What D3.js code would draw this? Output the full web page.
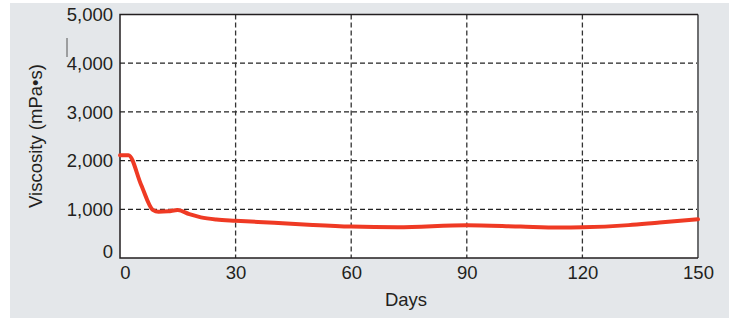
<!DOCTYPE html>
<html>
<head>
<meta charset="utf-8">
<script src="https://cdn.jsdelivr.net/npm/d3@7"></script>
<style>
  html, body { margin: 0; padding: 0; background: #fff; }
  text { font-family: "Liberation Sans", Arial, sans-serif; fill: #231f20; }
</style>
</head>
<body>
<div id="chart"></div>
<script>
// Chart data
const days = [0, 2.2, 5.5, 8.5, 10, 12.5, 15, 18, 21, 25, 30, 40, 50, 60, 72, 90, 104, 114, 120, 132, 140, 150];
const viscosity = [2110, 2110, 1500, 990, 950, 960, 985, 900, 835, 790, 765, 725, 680, 645, 630, 675, 645, 625, 630, 675, 730, 795];
const xTicks = [0, 30, 60, 90, 120, 150];
const yTicks = [0, 1000, 2000, 3000, 4000, 5000];

const width = 729;
const height = 318;

// Plot frame
const plotLeft = 120, plotRight = 698, plotTop = 14.5, plotBottom = 258;

const svg = d3
  .select("#chart")
  .append("svg")
  .attr("width", width)
  .attr("height", height);

// Grey panel
svg.append("rect")
  .attr("x", 10).attr("y", 3)
  .attr("width", width - 10).attr("height", height - 3)
  .attr("fill", "#e4e7ea");

const x = d3.scaleLinear().domain([0, 150]).range([plotLeft, plotRight]);
const y = d3.scaleLinear().domain([0, 5000]).range([plotBottom, plotTop]);

// White plot area
svg.append("rect")
  .attr("x", plotLeft).attr("y", plotTop)
  .attr("width", plotRight - plotLeft).attr("height", plotBottom - plotTop)
  .attr("fill", "#fff");

// Dashed grid
svg.append("g")
  .selectAll("line.hgrid")
  .data(yTicks.filter((d) => d > 0 && d < 5000))
  .enter()
  .append("line")
  .attr("x1", plotLeft).attr("x2", plotRight)
  .attr("y1", (d) => y(d)).attr("y2", (d) => y(d))
  .attr("stroke", "#222")
  .attr("stroke-width", 1.3)
  .attr("stroke-dasharray", "5,3");

svg.append("g")
  .selectAll("line.vgrid")
  .data(xTicks.filter((d) => d > 0 && d < 150))
  .enter()
  .append("line")
  .attr("y1", plotTop).attr("y2", plotBottom)
  .attr("x1", (d) => x(d)).attr("x2", (d) => x(d))
  .attr("stroke", "#333")
  .attr("stroke-width", 1.3)
  .attr("stroke-dasharray", "5,3");

// Frame
svg.append("line")
  .attr("x1", plotRight).attr("x2", plotRight).attr("y1", plotTop).attr("y2", plotBottom)
  .attr("stroke", "#6d6e70").attr("stroke-width", 2);
svg.append("path")
  .attr("d", `M${plotRight},${plotTop}H${plotLeft}V${plotBottom}H${plotRight}`)
  .attr("fill", "none")
  .attr("stroke", "#231f20")
  .attr("stroke-width", 1.5);

// Axes
const xAxis = svg.append("g")
  .attr("transform", `translate(0,${plotBottom})`)
  .call(d3.axisBottom(x).tickValues(xTicks).tickSize(0).tickPadding(8));
xAxis.select(".domain").remove();
xAxis.selectAll("text")
  .style("font-size", "18.5px")
  .attr("dy", "0.71em")
  .attr("dx", (d) => (d === 0 ? 5 : 0));

const yAxis = svg.append("g")
  .attr("transform", `translate(${plotLeft},0)`)
  .call(d3.axisLeft(y).tickValues(yTicks).tickSize(0).tickPadding(7).tickFormat(d3.format(",")));
yAxis.select(".domain").remove();
yAxis.selectAll("text")
  .style("font-size", "18.5px")
  .attr("dy", (d) => (d === 0 ? "-0.05em" : "0.34em"));

// Stray mark beside the y tick labels
svg.append("line")
  .attr("x1", 67).attr("x2", 67).attr("y1", 38).attr("y2", 57)
  .attr("stroke", "#555").attr("stroke-width", 1);

// Axis titles
svg.append("text")
  .attr("x", (plotLeft + plotRight) / 2 - 3)
  .attr("y", 306)
  .attr("text-anchor", "middle")
  .style("font-size", "18.5px")
  .text("Days");

svg.append("text")
  .attr("transform", "translate(42,136) rotate(-90)")
  .attr("text-anchor", "middle")
  .style("font-size", "18.5px")
  .text("Viscosity (mPa•s)");

// Viscosity curve
const line = d3.line()
  .x((d, i) => x(days[i]))
  .y((d) => y(d))
  .curve(d3.curveMonotoneX);

svg.append("path")
  .datum(viscosity)
  .attr("d", line)
  .attr("fill", "none")
  .attr("stroke", "#ef3a24")
  .attr("stroke-width", 4)
  .attr("stroke-linecap", "round")
  .attr("stroke-linejoin", "round");
</script>
</body>
</html>
